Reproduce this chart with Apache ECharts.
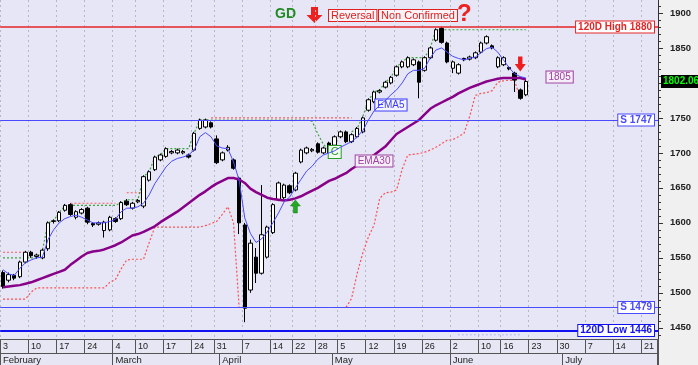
<!DOCTYPE html>
<html><head><meta charset="utf-8">
<script src="https://cdn.jsdelivr.net/npm/echarts@6/dist/echarts.min.js"></script>
<style>html,body{margin:0;padding:0;background:#f0f0f0}#c{width:698px;height:365px}</style>
</head><body><div id="c"></div>
<script>
// ---- trading days (Athens exchange, 2014) ----
const febDays=[3,4,5,6,7,10,11,12,13,14,17,18,19,20,21,24,25,26,27,28];
const marDays=[4,5,6,7,10,11,12,13,14,17,18,19,20,21,24,26,27,28,31];
const aprDays=[1,2,3,4,7,8,9,10,11,14,15,16,17,22,23,24,25,28,29,30];
const mayDays=[2,5,6,7,8,9,12,13,14,15,16,19,20,21,22,23,26,27,28,29,30];
const junDays=[2,3,4,5,6,10,11,12,13,16,17,18,19,20,23,24,25,26,27,30];
const julDays=[1,2,3,4,7,8,9,10,11,14,15,16,17,18,21,22,23];
const monthNames=['February','March','April','May','June','July'];
const monthNums=[2,3,4,5,6,7];

// ---- price data ----
const opens=[1529,1518,1525,1523,1544,1558,1552,1550,1563,1602,
1603,1618,1626,1608,1614,1621,1599,1598,1589,1590,
1606,1606,1631,1621,1630,1624,1661,1676,1690,1695,
1700,1700,1700,1697,1704,1735,1737,1743,1720,1690,
1704,1690,1664,1597,1504,1551,1528,1551,1586,1633,
1636,1653,1647,1687,1700,1703,1713,1700,1714,1711,
1723,1730,1716,1723,1730,1761,1773,1787,1794,1800,
1811,1823,1823,1826,1830,1818,1836,1861,1878,1857,
1821,1814,1835,1834,1836,1844,1857,1853,1823,1826,
1822,1814,1790,1783];
const closes=[1509,1526,1521,1544,1558,1553,1554,1561,1600,1603,
1615,1625,1612,1616,1619,1601,1597,1600,1601,1608,
1602,1629,1626,1628,1632,1666,1673,1694,1697,1706,
1702,1704,1702,1694,1728,1747,1747,1737,1686,1700,
1708,1678,1600,1478,1571,1528,1583,1594,1626,1657,
1654,1643,1671,1704,1707,1705,1701,1707,1700,1723,
1730,1716,1726,1735,1750,1776,1787,1789,1801,1808,
1823,1830,1836,1833,1801,1836,1850,1876,1858,1830,
1830,1826,1833,1837,1843,1857,1866,1850,1836,1836,
1820,1804,1778,1802.06];
const lows=[1506,1515,1518,1521,1542,1550,1549,1548,1560,1599,
1601,1616,1610,1605,1612,1598,1594,1596,1579,1588,
1600,1604,1624,1619,1628,1621,1659,1674,1688,1693,
1698,1698,1698,1692,1702,1733,1735,1735,1684,1688,
1702,1676,1584,1458,1500,1514,1526,1549,1584,1631,
1634,1641,1645,1685,1698,1701,1699,1698,1698,1709,
1721,1714,1714,1721,1728,1759,1771,1785,1792,1798,
1809,1821,1821,1824,1778,1816,1834,1859,1856,1828,
1814,1812,1831,1832,1834,1842,1855,1848,1821,1824,
1818,1787,1776,1781];
const highs=[1532,1529,1527,1546,1560,1560,1556,1563,1602,1605,
1617,1627,1628,1618,1621,1623,1601,1602,1603,1610,
1608,1631,1634,1630,1634,1668,1675,1696,1699,1708,
1704,1706,1704,1699,1730,1749,1749,1745,1725,1702,
1711,1692,1666,1600,1576,1564,1654,1596,1628,1659,
1656,1655,1673,1706,1709,1707,1715,1709,1716,1725,
1732,1732,1728,1737,1752,1778,1789,1791,1803,1810,
1825,1832,1838,1835,1832,1838,1852,1878,1880,1859,
1832,1828,1836,1839,1845,1859,1868,1855,1838,1838,
1824,1816,1792,1805];
const ema5=[1533,1527,1525,1535,1543,1547,1550,1551,1576,1590,
1600,1606,1609,1611,1608,1604,1600,1600,1600,1602,
1605,1616,1621,1621,1623,1628,1640,1656,1668,1680,
1688,1692,1694,1697,1704,1723,1729,1723,1710,1707,
1706,1687,1661,1607,1585,1572,1577,1587,1600,1614,
1630,1637,1650,1662,1674,1681,1691,1697,1700,1703,
1708,1712,1716,1723,1732,1747,1760,1768,1775,1783,
1790,1800,1813,1818,1818,1821,1836,1847,1850,1844,
1838,1835,1833,1835,1837,1843,1849,1851,1844,1833,
1822,1813,1809,1807];
const ema30=[1508,1509,1510,1511,1513,1515,1518,1521,1524,1527,
1530,1533,1540,1546,1552,1557,1559,1560,1562,1565,
1568,1572,1577,1582,1584,1587,1591,1595,1601,1606,
1611,1616,1622,1628,1634,1640,1645,1651,1656,1660,
1664,1664,1662,1657,1649,1644,1640,1636,1634,1633,
1632,1633,1635,1638,1642,1646,1650,1655,1660,1663,
1667,1671,1677,1682,1687,1692,1697,1703,1709,1718,
1727,1732,1737,1742,1747,1755,1763,1768,1772,1776,
1780,1785,1789,1793,1796,1799,1802,1804,1806,1807,
1807,1807,1807,1805];
const stopLine=[1491,1491,1491,1491,1491,1501,1507,1507,1507,1507,
1507,1507,1507,1507,1507,1507,1507,1507,1507,1515,
1519,1534,1547,1548,1548,1548,1572,1594,1594,1594,
1594,1594,1594,1594,1594,1594,1596,1599,1602,1612,
1623,1600,1479,1479,1479,1479,1479,1479,1479,1479,
1479,1479,1479,1479,1479,1479,1479,1479,1479,1479,
1479,1479,1492,1528,1557,1580,1597,1635,1643,1644,
1647,1677,1697,1698,1699,1701,1704,1708,1713,1718,
1719,1723,1728,1752,1782,1785,1786,1789,1801,1803,
1804,1803,1778,null];
const resistLine=[1558,1558,1558,1558,1558,null,null,null,null,null,
null,null,1628,1628,1628,1628,1628,1628,1628,1628,
1628,null,1643,1643,1643,1643,null,null,null,null,
null,null,null,null,null,null,null,1750,1750,1750,
1750,1750,1750,1750,1750,1750,1750,1750,1750,1750,
1750,1750,1750,1750,1750,1750,1750,1750,1750,1750,
1750,1750,1750,null,null,null,null,null,null,null,
null,null,null,null,null,null,null,null,null,null,
null,null,null,null,null,null,null,null,null,null,
null,null,null,null];
const highTrack=[1550,1550,1550,1550,1550,1550,1550,1560,1600,1603,
1615,1624,1625,1625,1625,1625,1625,1625,1625,1625,
1625,1629,1633,1633,1633,1666,1673,1694,1697,1706,
1706,1706,1706,1706,1728,1747,1747,1747,1747,1747,
1747,1747,1747,1747,1747,1747,1747,1747,1747,1747,
1747,1747,1747,1747,1747,1745,1727,1712,1704,null,
null,null,1730,1735,1752,1775,1787,1790,1801,1808,
1823,1830,1836,1836,1836,1836,1850,1876,1876,1876,
1876,1876,1876,1876,1876,1876,1876,1876,1876,1876,
1876,1876,1876,1876];
const lowTrack=[null,null,null,null,null,null,null,null,null,null,
null,null,null,null,null,null,null,null,null,null,
null,null,null,null,null,null,null,null,null,null,
null,null,null,null,null,null,null,null,null,null,
null,null,null,null,null,null,null,null,null,null,
null,null,null,null,null,null,null,null,null,null,
null,null,null,null,null,null,null,null,null,null,
null,null,null,null,null,null,null,null,null,null,
null,1440,1440,1440,1440,1440,1440,1440,1440,1440,
1440,1440,1440,null];
const levelValues=[1880,1747,1479,1446];
const levelLabels=['120D High 1880','S 1747','S 1479','120D Low 1446'];
const priceTicks=[1450,1500,1550,1600,1650,1700,1750,1800,1850,1900];

// ---- build categories ----
const categories=[];
[febDays,marDays,aprDays,mayDays,junDays,julDays].forEach((days,m)=>days.forEach(d=>{
  categories.push('2014-'+String(monthNums[m]).padStart(2,'0')+'-'+String(d).padStart(2,'0'));
}));
const dates=categories.map(s=>new Date(s+'T00:00:00Z'));
const isWeekStart=i=>i===0||dates[i].getUTCDay()<=dates[i-1].getUTCDay()||(dates[i]-dates[i-1])>=7*864e5;
const isMonthStart=i=>i===0||dates[i].getUTCMonth()!==dates[i-1].getUTCMonth();
const minorTicks=[];for(let v=1440;v<=1910;v+=10)minorTicks.push(v);
const ohlc=opens.map((o,i)=>[o,closes[i],lows[i],highs[i]]);
const lastClose=closes[closes.length-1];
const lastEma30=ema30[ema30.length-1];

const FONT='Liberation Sans';
const levelColors=['#e42525','#4a4aff','#4a4aff','#1212f0'];
const levelWidths=[1.5,1,1,2];

const boxLabel=(text,color,bg,extra)=>Object.assign({show:true,position:'inside',formatter:text,color:color,
  fontSize:10,fontFamily:FONT,backgroundColor:bg,borderColor:color,borderWidth:1,padding:[1,2,0,2]},extra||{});
const hidden={color:'rgba(0,0,0,0)'};

const chart=echarts.init(document.getElementById('c'),null,{renderer:'canvas'});
const option={
  animation:false,
  backgroundColor:'#f0f0f0',
  textStyle:{fontFamily:FONT},
  grid:{left:0,right:40,top:0,bottom:26,show:true,backgroundColor:'#e6e6f7',borderWidth:0},
  xAxis:[{
    type:'category',data:categories,boundaryGap:true,
    axisLine:{show:true,lineStyle:{color:'#555',width:1}},
    axisTick:{show:true,interval:i=>isWeekStart(i),length:14,lineStyle:{color:'#555'}},
    axisLabel:{interval:i=>isWeekStart(i),formatter:v=>String(+v.slice(8)),align:'left',margin:3,fontSize:9,color:'#222'},
    splitLine:{show:true,interval:i=>isWeekStart(i),lineStyle:{color:'#b8b8c4',type:[2,3],width:1}}
  },{
    type:'category',data:categories,boundaryGap:true,position:'bottom',offset:14,
    axisLine:{show:true,lineStyle:{color:'#555',width:1}},
    axisTick:{show:true,interval:i=>isMonthStart(i),length:12,lineStyle:{color:'#555'}},
    axisLabel:{interval:i=>isMonthStart(i),formatter:v=>monthNames[+v.slice(5,7)-2],align:'left',margin:2,fontSize:9.5,color:'#222'},
    splitLine:{show:false}
  }],
  yAxis:[{
    type:'value',position:'right',min:1434,max:1918.5,scale:true,splitLine:{show:false},
    axisLine:{show:true,lineStyle:{color:'#333'}},
    axisTick:{show:true,customValues:priceTicks,length:5,lineStyle:{color:'#333'}},
    axisLabel:{customValues:priceTicks,formatter:v=>String(v),fontSize:9.5,fontWeight:'bold',color:'#222',margin:12}
  },{
    type:'value',position:'right',min:1434,max:1918.5,scale:true,splitLine:{show:false},
    axisLine:{show:false},
    axisTick:{show:true,customValues:minorTicks,length:3,lineStyle:{color:'#333'}},
    axisLabel:{show:false}
  }],
  series:[
    {type:'line',name:'lowTrack',data:lowTrack,symbol:'none',z:2,lineStyle:{color:'#8c8cff',width:1,type:[1,3]}},
    {type:'line',name:'resist',data:resistLine,symbol:'none',z:2,lineStyle:{color:'#ff5a5a',width:1.2,type:[2,2]}},
    {type:'line',name:'highTrack',data:highTrack,symbol:'none',z:2,lineStyle:{color:'#3aa53a',width:1.2,type:[2,2]}},
    {type:'line',name:'stop',data:stopLine,symbol:'none',z:2,lineStyle:{color:'#ff5050',width:1.2,type:[2,2]}},
    {type:'candlestick',name:'Price',data:ohlc,barWidth:4,z:3,clip:false,
      itemStyle:{color:'#ffffff',color0:'#000000',borderColor:'#000000',borderColor0:'#000000',borderWidth:1},
      markLine:{silent:true,symbol:['none','none'],animation:false,
        data:levelValues.map((v,k)=>({yAxis:v,lineStyle:{color:levelColors[k],width:levelWidths[k],type:'solid'},
          label:{show:true,position:'insideEnd',distance:4,formatter:levelLabels[k],color:levelColors[k],fontWeight:'bold',
            fontSize:10,fontFamily:FONT,backgroundColor:'#ffffff',borderColor:levelColors[k],borderWidth:1,padding:[1,2,0,2]}}))
          .concat([{yAxis:lastClose,lineStyle:{color:'rgba(0,0,0,0)',width:0},label:{show:true,position:'end',distance:3,formatter:lastClose.toFixed(2),
            color:'#00ff00',backgroundColor:'#000000',fontWeight:'bold',fontSize:10,fontFamily:FONT,padding:[2,2,1,2]}}])
      }},
    {type:'line',name:'EMA30',data:ema30,symbol:'none',z:4,lineStyle:{color:'#880088',width:2.5},
      markPoint:{silent:true,animation:false,data:[
        {coord:[99,1808.4],symbol:'rect',symbolSize:0,itemStyle:hidden,label:boxLabel(String(Math.round(lastEma30)),'#a040a0','#f4eef8')},
        {coord:[66,1688.4],symbol:'rect',symbolSize:0,itemStyle:hidden,label:boxLabel('EMA30','#a040a0','#f4eef8')}
      ]}},
    {type:'line',name:'EMA5',data:ema5,symbol:'none',z:5,lineStyle:{color:'#4a4aff',width:1},
      markPoint:{silent:true,animation:false,data:[
        {coord:[69,1768.4],symbol:'rect',symbolSize:0,itemStyle:hidden,label:boxLabel('EMA5','#3a3aff','#f4f4ff')},
        {coord:[59,1701.3],symbol:'rect',symbolSize:0,itemStyle:hidden,label:boxLabel('C','#2a9a2a','#f2fff2',{fontSize:11,padding:[1,2,0,2]})},
        {coord:[52,1623.4],symbol:'path://M5,0L10,6L7,6L7,13L3,13L3,6L0,6Z',symbolSize:[10,13],itemStyle:{color:'#22aa22',borderColor:'#117711',borderWidth:0.5},label:{show:false}},
        {coord:[92,1827],symbol:'path://M3,0L7,0L7,7L10,7L5,14L0,7L3,7Z',symbolSize:[11,15],itemStyle:{color:'#ee1c1c'},label:{show:false}}
      ]}}
  ],
  graphic:[
    {type:'rect',shape:{x:0,y:339,width:658,height:26},style:{fill:'#e6e6f4'},z:-10,silent:true},
    {type:'line',shape:{x1:657.5,y1:339,x2:657.5,y2:365},style:{stroke:'#555',lineWidth:1},silent:true},
    {type:'text',x:275,y:7,style:{text:'GD',font:'bold 14px '+FONT,fill:'#1f8a1f'},silent:true},
    {type:'polygon',shape:{points:[[311,7],[318,7],[318,15],[322.5,15],[314.5,23],[306.5,15],[311,15]]},style:{fill:'#ee2020'},silent:true},
    {type:'text',x:329,y:10,style:{text:'Reversal',font:'11px '+FONT,fill:'#e02020',backgroundColor:'#fbf3f6',borderColor:'#e02020',borderWidth:1,padding:[0,2,0,2]},silent:true},
    {type:'text',x:379,y:10,style:{text:'Non Confirmed',font:'11px '+FONT,fill:'#e02020',backgroundColor:'#fbf3f6',borderColor:'#e02020',borderWidth:1,padding:[0,2,0,2]},silent:true},
    {type:'text',x:457,y:2,style:{text:'?',font:'bold 24px '+FONT,fill:'#ee2020'},silent:true}
  ]
};
chart.setOption(option);
</script></body></html>
